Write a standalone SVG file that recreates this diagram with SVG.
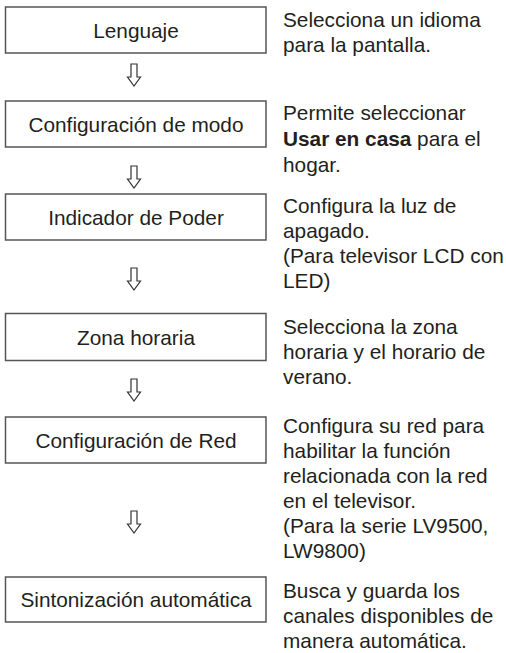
<svg xmlns="http://www.w3.org/2000/svg" width="506" height="653" viewBox="0 0 506 653">
<style>
  .box { fill: #ffffff; stroke: #555555; stroke-width: 1.5; }
  .lbl { font-family: "Liberation Sans", Arial, sans-serif; font-size: 20.8px; fill: #231f20; text-anchor: middle; }
  .desc { font-family: "Liberation Sans", Arial, sans-serif; font-size: 20.8px; fill: #231f20; }
  .arr { fill: #ffffff; stroke: #333333; stroke-width: 1.2; stroke-linejoin: miter; }
</style>
<rect width="506" height="653" fill="#ffffff"/>
<defs>
  <path id="arrow" d="M -3 0 H 3 V 13 H 6.5 L 0 22 L -6.5 13 H -3 Z"/>
</defs>
<g id="connectors">
  <use href="#arrow" class="arr" x="134" y="64"/>
  <use href="#arrow" class="arr" x="134" y="166"/>
  <use href="#arrow" class="arr" x="134" y="268"/>
  <use href="#arrow" class="arr" x="134" y="379"/>
  <use href="#arrow" class="arr" x="134" y="511"/>
</g>
<g id="node-lenguaje">
  <rect class="box" x="5.5" y="7" width="260.5" height="46"/>
  <text class="lbl" x="136" y="37.5">Lenguaje</text>
  <text class="desc" x="283" y="27">Selecciona un idioma</text>
  <text class="desc" x="283" y="52">para la pantalla.</text>
</g>
<g id="node-modo">
  <rect class="box" x="5.5" y="101" width="260.5" height="46"/>
  <text class="lbl" x="136" y="131.5">Configuración de modo</text>
  <text class="desc" x="283" y="120">Permite seleccionar</text>
  <text class="desc" x="283" y="146"><tspan font-weight="bold">Usar en casa</tspan> para el</text>
  <text class="desc" x="283" y="172">hogar.</text>
</g>
<g id="node-poder">
  <rect class="box" x="5.5" y="194" width="260.5" height="46"/>
  <text class="lbl" x="136" y="224.5">Indicador de Poder</text>
  <text class="desc" x="283" y="213">Configura la luz de</text>
  <text class="desc" x="283" y="238">apagado.</text>
  <text class="desc" x="283" y="263">(Para televisor LCD con</text>
  <text class="desc" x="283" y="288">LED)</text>
</g>
<g id="node-zona">
  <rect class="box" x="5.5" y="313.5" width="260.5" height="47"/>
  <text class="lbl" x="136" y="344.5">Zona horaria</text>
  <text class="desc" x="283" y="334">Selecciona la zona</text>
  <text class="desc" x="283" y="359">horaria y el horario de</text>
  <text class="desc" x="283" y="384">verano.</text>
</g>
<g id="node-red">
  <rect class="box" x="5.5" y="417" width="260.5" height="46"/>
  <text class="lbl" x="136" y="447.5">Configuración de Red</text>
  <text class="desc" x="283" y="433">Configura su red para</text>
  <text class="desc" x="283" y="458">habilitar la función</text>
  <text class="desc" x="283" y="483">relacionada con la red</text>
  <text class="desc" x="283" y="508">en el televisor.</text>
  <text class="desc" x="283" y="533">(Para la serie LV9500,</text>
  <text class="desc" x="283" y="558">LW9800)</text>
</g>
<g id="node-sintonizacion">
  <rect class="box" x="5.5" y="577" width="260.5" height="45"/>
  <text class="lbl" x="136" y="607">Sintonización automática</text>
  <text class="desc" x="283" y="598">Busca y guarda los</text>
  <text class="desc" x="283" y="623">canales disponibles de</text>
  <text class="desc" x="283" y="648">manera automática.</text>
</g>
</svg>
